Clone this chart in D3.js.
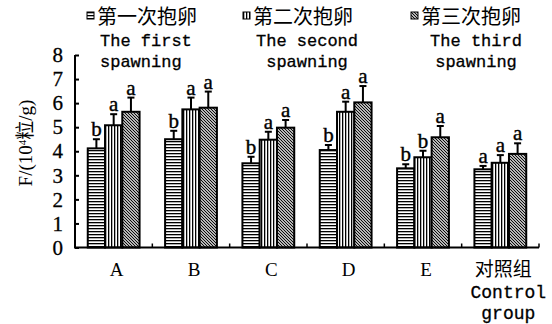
<!DOCTYPE html>
<html><head><meta charset="utf-8">
<script src="https://cdn.jsdelivr.net/npm/d3@7"></script>
<style>body{margin:0;background:#fff}svg{display:block}</style>
</head><body>
<script>
const categories = ["A","B","C","D","E","对照组"];
const categorySub = ["","","","","","Control|group"];
const seriesNames = ["第一次抱卵","第二次抱卵","第三次抱卵"];
const seriesEn = [["The first","spawning"],["The second","spawning"],["The third","spawning"]];
const s1 = [4.12, 4.50, 3.50, 4.05, 3.29, 3.25];
const s2 = [5.08, 5.74, 4.48, 5.64, 3.75, 3.52];
const s3 = [5.64, 5.81, 4.98, 6.03, 4.58, 3.89];
const e1 = [0.38, 0.35, 0.27, 0.21, 0.17, 0.14];
const e2 = [0.46, 0.49, 0.33, 0.42, 0.27, 0.32];
const e3 = [0.59, 0.67, 0.32, 0.68, 0.47, 0.44];
const l1 = ["b","b","b","b","b","a"];
const l2 = ["a","a","a","a","b","a"];
const l3 = ["a","a","a","a","a","a"];
const yTicks = [0,1,2,3,4,5,6,7,8];

const W = 552, H = 324;
const svg = d3.select("body").append("svg").attr("width", W).attr("height", H);
const defs = svg.append("defs");
function pat(id, draw){
  const p = defs.append("pattern").attr("id", id).attr("patternUnits","userSpaceOnUse")
    .attr("width",3).attr("height",3);
  p.append("rect").attr("width",3).attr("height",3).attr("fill","#fff");
  draw(p);
}
pat("ph", p => p.append("rect").attr("x",0).attr("y",0).attr("width",3).attr("height",1.3).attr("fill","#000"));
pat("pv", p => p.append("rect").attr("x",0).attr("y",0).attr("width",1.3).attr("height",3).attr("fill","#000"));
pat("pd", p => {
  p.append("path").attr("d","M-1,-1 L4,4 M-1,2 L1,4 M2,-1 L4,1").attr("stroke","#000").attr("stroke-width",1.1);
});
const fills = ["url(#ph)","url(#pv)","url(#pd)"];

const x0 = d3.scaleBand().domain(categories).range([75, 539]).paddingInner(0.33).paddingOuter(0.165);
const x1 = d3.scaleBand().domain([0,1,2]).range([0, x0.bandwidth()]);
const y = d3.scaleLinear().domain([0, 8]).range([247.5, 55]);

const vals = [s1,s2,s3], errs=[e1,e2,e3], lets=[l1,l2,l3];
const data = [];
categories.forEach((c,i)=>{ for(let s=0;s<3;s++) data.push({c, s, v: vals[s][i], e: errs[s][i], l: lets[s][i]}); });

const g = svg.append("g");
// error bars
g.selectAll(".err").data(data).enter().append("g").each(function(d){
  const cx = x0(d.c) + x1(d.s) + x1.bandwidth()/2;
  const sel = d3.select(this);
  sel.append("line").attr("x1",cx).attr("x2",cx).attr("y1",y(d.v)).attr("y2",y(d.v+d.e)).attr("stroke","#000").attr("stroke-width",2);
  sel.append("line").attr("x1",cx-3.5).attr("x2",cx+3.5).attr("y1",y(d.v+d.e)).attr("y2",y(d.v+d.e)).attr("stroke","#000").attr("stroke-width",2);
  sel.append("text").attr("x",cx).attr("y",y(d.v+d.e)-3).attr("text-anchor","middle")
    .attr("font-family","'Liberation Serif','DejaVu Serif',serif").attr("font-size",21)
    .attr("stroke","#000").attr("stroke-width",0.4).text(d.l);
});
// bars
g.selectAll(".bar").data(data).enter().append("rect")
  .attr("x", d=>x0(d.c)+x1(d.s)).attr("width", x1.bandwidth())
  .attr("y", d=>y(d.v)).attr("height", d=>y(0)-y(d.v))
  .attr("fill", d=>fills[d.s]).attr("stroke","#000").attr("stroke-width",2);

// y axis
const yAxis = d3.axisLeft(y).tickValues(yTicks).tickSize(-4).tickPadding(12).tickSizeOuter(0);
const ya = svg.append("g").attr("transform","translate(75,0)").call(yAxis);
ya.select(".domain").attr("stroke-width",2).attr("d","M0,"+y(8)+"V"+y(0));
ya.selectAll(".tick line").attr("stroke-width",2);
ya.selectAll("text").attr("font-family","'Liberation Serif','DejaVu Serif',serif").attr("font-size",21)
  .attr("fill","#000").attr("stroke","#000").attr("stroke-width",0.3);

// x axis
svg.append("line").attr("x1",74).attr("x2",539).attr("y1",y(0)).attr("y2",y(0)).attr("stroke","#000").attr("stroke-width",2);
const bounds = categories.map(c => x0(c) + x0.bandwidth() + x0.step()*0.165);
bounds.forEach(b => svg.append("line").attr("x1",b).attr("x2",b).attr("y1",y(0)).attr("y2",y(0)-4).attr("stroke","#000").attr("stroke-width",1.5));
const lblFont = "'Liberation Mono','DejaVu Sans Mono',monospace";
categories.forEach((c,i)=>{
  const cx = x0(c)+x0.bandwidth()/2+3;
  svg.append("text").attr("x",cx).attr("y",276).attr("text-anchor","middle")
    .attr("font-family", i===5 ? "'Noto Sans CJK SC',sans-serif" : "'Liberation Serif',serif")
    .attr("font-size", i===5?19:19).text(c);
  if (categorySub[i]) categorySub[i].split("|").forEach((t,j)=>{
    svg.append("text").attr("x",cx+5).attr("y",298+j*21).attr("text-anchor","middle")
      .attr("font-family",lblFont).attr("font-size",18).attr("stroke","#000").attr("stroke-width",0.3).text(t);
  });
});

// y label
svg.append("text").attr("transform","translate(32,143) rotate(-90)").attr("text-anchor","middle")
  .attr("font-family","'Liberation Serif','Noto Sans CJK SC',serif").attr("font-size",19)
  .html('F/(10<tspan dy="-6" font-size="11">4</tspan><tspan dy="6" font-family="Noto Sans CJK SC">粒</tspan>/g)');

// legend
const legX = [87, 243, 411];
const legAnchor = [[98,"start"],[307,"middle"],[476,"middle"]];
seriesNames.forEach((n,i)=>{
  svg.append("rect").attr("x",legX[i]).attr("y",12).attr("width",7).attr("height",7)
    .attr("fill",fills[i]).attr("stroke","#000").attr("stroke-width",1);
  svg.append("text").attr("x",legX[i]+10).attr("y",24).attr("font-family","'Noto Sans CJK SC',sans-serif")
    .attr("font-size",20).text(n);
  seriesEn[i].forEach((t,j)=>{
    svg.append("text").attr("x", i===0 ? 100 : legAnchor[i][0]).attr("y",46+j*21)
      .attr("text-anchor", i===0?"start":"middle")
      .attr("font-family",lblFont).attr("font-size",17).attr("stroke","#000").attr("stroke-width",0.3).text(t);
  });
});
</script>
</body></html>
